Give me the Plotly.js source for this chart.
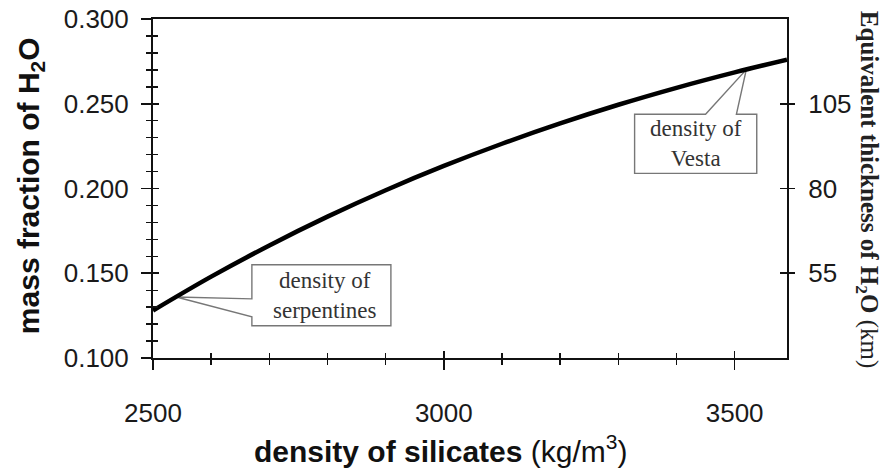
<!DOCTYPE html>
<html>
<head>
<meta charset="utf-8">
<script src="https://cdn.plot.ly/plotly-3.0.1.min.js"></script>
<style>
  html, body { margin: 0; padding: 0; background: #fff; }
  #chart { width: 884px; height: 468px; }
</style>
</head>
<body>
<div id="chart"></div>
<script>
// Water mass fraction needed to match the bulk density, versus silicate density
const silicateDensity = [2500, 2600, 2700, 2800, 2900, 3000, 3100, 3200, 3300, 3400, 3500, 3590];
const waterFraction   = [0.1280, 0.1480, 0.1664, 0.1834, 0.1990, 0.2133, 0.2264, 0.2384, 0.2494, 0.2594, 0.2685, 0.2760];

// Axis ticks
const fractionTicks  = [0.100, 0.150, 0.200, 0.250, 0.300];
const fractionLabels = ['0.100', '0.150', '0.200', '0.250', '0.300'];
const densityTicks   = [2500, 3000, 3500];
const thicknessTicks = [55, 80, 105];

// Reference densities marked on the curve
const serpentineDensity = 2540;
const vestaDensity = 3520;

// Equivalent H2O layer thickness (km) is linear in the mass fraction
const kmPerFraction = 500, kmOffset = -20;
const fracRange = [0.100, 0.300];
const kmRange = fracRange.map(f => f * kmPerFraction + kmOffset);
const xRange = [2500, 3590];
const thickness = waterFraction.map(f => f * kmPerFraction + kmOffset);

function curveAt(x) {
  for (let i = 0; i < silicateDensity.length - 1; i++) {
    const a = silicateDensity[i], b = silicateDensity[i + 1];
    if (x >= a && x <= b) {
      const t = (x - a) / (b - a);
      return waterFraction[i] + t * (waterFraction[i + 1] - waterFraction[i]);
    }
  }
  return waterFraction[waterFraction.length - 1];
}

// Callout boxes (data units) with a wedge pointing to the curve
function leftCallout(box, tipX) {
  const tipY = curveAt(tipX);
  return 'M' + box.x0 + ',' + box.y1 + ' L' + box.x1 + ',' + box.y1 +
         ' L' + box.x1 + ',' + box.y0 + ' L' + box.x0 + ',' + box.y0 +
         ' L' + box.x0 + ',' + box.nLow + ' L' + tipX + ',' + tipY +
         ' L' + box.x0 + ',' + box.nHigh + ' Z';
}
function topCallout(box, tipX) {
  const tipY = curveAt(tipX);
  return 'M' + box.x0 + ',' + box.y1 + ' L' + box.nLeft + ',' + box.y1 +
         ' L' + tipX + ',' + tipY + ' L' + box.nRight + ',' + box.y1 +
         ' L' + box.x1 + ',' + box.y1 + ' L' + box.x1 + ',' + box.y0 +
         ' L' + box.x0 + ',' + box.y0 + ' Z';
}
const serpBox  = { x0: 2670, x1: 2909, y0: 0.119, y1: 0.155, nLow: 0.1243, nHigh: 0.1349 };
const vestaBox = { x0: 3328, x1: 3538, y0: 0.2089, y1: 0.2438, nLeft: 3450, nRight: 3503 };

const tickFont = { family: 'Liberation Sans, Arial, sans-serif', size: 26, color: '#1a1a1a' };
const noteFont = { family: 'Liberation Serif, Times New Roman, serif', size: 23, color: '#333' };
const axisColor = '#111';

// Hidden copies keep the overlaid tick axes alive
function ghost(xa, ya, yv) {
  return { x: silicateDensity, y: yv, xaxis: xa, yaxis: ya, type: 'scatter', mode: 'lines',
           opacity: 0, line: { width: 0 }, hoverinfo: 'skip', showlegend: false };
}

const traces = [
  {
    x: silicateDensity,
    y: waterFraction,
    type: 'scatter',
    mode: 'lines',
    line: { color: '#000', width: 4.5, shape: 'spline', smoothing: 1 },
    hoverinfo: 'skip',
    showlegend: false
  },
  ghost('x2', 'y', waterFraction),
  ghost('x', 'y3', waterFraction),
  ghost('x', 'y2', thickness),
  ghost('x', 'y4', thickness)
];

const baseY = { range: fracRange, showgrid: false, zeroline: false, fixedrange: true };

const layout = {
  width: 884, height: 468,
  margin: { l: 153, r: 97, t: 19, b: 110 },
  paper_bgcolor: '#fff', plot_bgcolor: '#fff',
  showlegend: false,
  xaxis: {
    range: xRange, showgrid: false, zeroline: false, fixedrange: true,
    showline: true, linecolor: axisColor, linewidth: 2, mirror: true,
    tickmode: 'array', tickvals: densityTicks,
    ticks: 'outside', ticklen: 10, tickwidth: 1.6, tickcolor: axisColor,
    minor: { dtick: 100, tick0: 2500, ticks: 'outside', ticklen: 5, tickwidth: 1.4, tickcolor: axisColor },
    tickfont: tickFont, ticklabelstandoff: 21
  },
  xaxis2: {
    overlaying: 'x', anchor: 'y', side: 'bottom', range: xRange, fixedrange: true,
    showgrid: false, zeroline: false, showline: false, showticklabels: false,
    tickmode: 'array', tickvals: densityTicks,
    ticks: 'inside', ticklen: 7, tickwidth: 1.6, tickcolor: axisColor,
    minor: { dtick: 100, tick0: 2500, ticks: 'inside', ticklen: 5, tickwidth: 1.4, tickcolor: axisColor }
  },
  yaxis: Object.assign({}, baseY, {
    showline: true, linecolor: axisColor, linewidth: 2, mirror: true,
    tickmode: 'array', tickvals: fractionTicks, ticktext: fractionLabels,
    ticks: 'outside', ticklen: 10, tickwidth: 1.6, tickcolor: axisColor,
    minor: { dtick: 0.01, tick0: 0.1, ticks: 'outside', ticklen: 5, tickwidth: 1.4, tickcolor: axisColor },
    tickfont: tickFont, ticklabelstandoff: 7
  }),
  yaxis3: Object.assign({}, baseY, {
    overlaying: 'y', anchor: 'x', side: 'left',
    showline: false, showticklabels: false,
    tickmode: 'array', tickvals: fractionTicks,
    ticks: 'inside', ticklen: 6, tickwidth: 1.6, tickcolor: axisColor,
    minor: { dtick: 0.01, tick0: 0.1, ticks: 'inside', ticklen: 5, tickwidth: 1.4, tickcolor: axisColor }
  }),
  yaxis2: {
    overlaying: 'y', anchor: 'x', side: 'right', range: kmRange,
    showgrid: false, zeroline: false, showline: false, fixedrange: true,
    tickmode: 'array', tickvals: thicknessTicks,
    ticks: 'outside', ticklen: 7, tickwidth: 1.6, tickcolor: axisColor,
    tickfont: tickFont, ticklabelstandoff: 8
  },
  yaxis4: {
    overlaying: 'y', anchor: 'x', side: 'right', range: kmRange, fixedrange: true,
    showgrid: false, zeroline: false, showline: false, showticklabels: false,
    tickmode: 'array', tickvals: thicknessTicks,
    ticks: 'inside', ticklen: 7, tickwidth: 1.6, tickcolor: axisColor
  },
  shapes: [
    { type: 'path', xref: 'x', yref: 'y', layer: 'below', path: leftCallout(serpBox, serpentineDensity),
      line: { color: '#777', width: 1.4 }, fillcolor: '#fff' },
    { type: 'path', xref: 'x', yref: 'y', layer: 'below', path: topCallout(vestaBox, vestaDensity),
      line: { color: '#777', width: 1.4 }, fillcolor: '#fff' }
  ],
  annotations: [
    { text: 'density of<br>serpentines', x: (serpBox.x0 + serpBox.x1) / 2 + 6, y: (serpBox.y0 + serpBox.y1) / 2,
      xref: 'x', yref: 'y', xanchor: 'center', yanchor: 'middle', showarrow: false, font: noteFont },
    { text: 'density of<br>Vesta', x: (vestaBox.x0 + vestaBox.x1) / 2, y: (vestaBox.y0 + vestaBox.y1) / 2,
      xref: 'x', yref: 'y', xanchor: 'center', yanchor: 'middle', showarrow: false, font: noteFont },
    // axis titles
    { text: '<b>mass fraction of H<sub>2</sub>O</b>', xref: 'paper', yref: 'paper',
      x: -0.194, y: 0.507, xanchor: 'center', yanchor: 'middle', textangle: -90, showarrow: false,
      font: { family: 'Liberation Sans, Arial, sans-serif', size: 30, color: '#111' } },
    { text: '<b>density of silicates</b> (kg/m<sup>3</sup>)', xref: 'paper', yref: 'paper',
      x: 0.454, y: -0.268, xanchor: 'center', yanchor: 'middle', showarrow: false,
      font: { family: 'Liberation Sans, Arial, sans-serif', size: 30, color: '#111' } },
    { text: '<b>Equivalent thickness of H<sub>2</sub>O</b> (km)', xref: 'paper', yref: 'paper',
      x: 1.128, y: 0.4985, xanchor: 'center', yanchor: 'middle', textangle: 90, showarrow: false,
      font: { family: 'Liberation Serif, Times New Roman, serif', size: 25, color: '#222' } }
  ]
};

Plotly.newPlot('chart', traces, layout, { staticPlot: true, displayModeBar: false });
</script>
</body>
</html>
